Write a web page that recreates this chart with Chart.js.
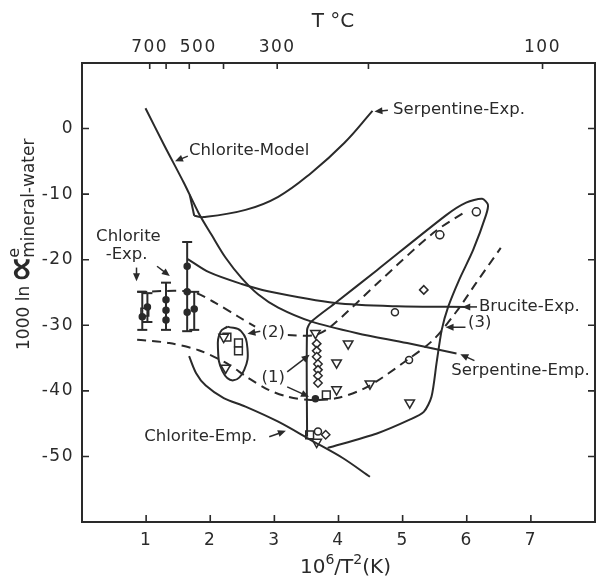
<!DOCTYPE html>
<html>
<head>
<meta charset="utf-8">
<title>Oxygen isotope fractionation, mineral-water</title>
<script src="https://cdn.jsdelivr.net/npm/chart.js@4.4.1/dist/chart.umd.min.js"></script>
<style>
  body { margin: 0; background: #fff; }
  canvas { display: block; }
</style>
</head>
<body>
<canvas id="fracChart" width="603" height="577"></canvas>
<script>
// all pairs are [10^6/T^2, 1000 ln alpha]

// solid curves
const chloriteModel = [[0.99, 3.1], [1.28, -2.5], [1.59, -8.3], [1.82, -12.9], [2.02, -16.2], [2.24, -19.7],
    [2.49, -22.8], [2.75, -25.3], [3.06, -27.3], [3.57, -29.4], [4.29, -31.2], [5.07, -32.7], [5.84, -34.3]];
const serpentineExpStart = [[1.68, -10.1], [1.75, -13.3]];
const serpentineExp = [[1.75, -13.3], [1.90, -13.5], [2.55, -12.4], [3.06, -10.4], [3.57, -6.8], [4.09, -2.2], [4.53, 2.7]];
const bruciteExp = [[1.65, -19.9], [1.98, -21.9], [2.49, -23.7], [2.90, -24.8], [3.95, -26.6], [4.91, -27.1], [6.02, -27.2]];
const chloriteEmp = [[1.67, -34.7], [1.78, -37.3], [1.93, -39.2], [2.21, -41.1], [2.55, -42.4], [3.06, -44.7],
    [3.57, -47.5], [4.06, -50.2], [4.49, -53.1]];
const envelope = [[3.83, -48.7], [4.60, -46.5], [5.11, -44.4], [5.33, -43.2], [5.45, -40.9], [5.53, -35.7],
    [5.61, -30.7], [5.71, -27.2], [5.88, -23.1], [6.10, -18.5], [6.30, -13.2], [6.33, -11.6], [6.24, -10.7],
    [5.99, -11.3], [5.68, -13.2], [4.60, -21.6], [3.95, -26.6], [3.57, -29.5], [3.51, -30.7], [3.51, -47.0]];
const loop2 = [[2.27, -30.2], [2.48, -30.9], [2.58, -33.5], [2.53, -36.8], [2.36, -38.4], [2.19, -37.0],
    [2.12, -33.5], [2.16, -31.0], [2.27, -30.2]];

// dashed curves
const upperDashedA = [[0.86, -24.9], [1.71, -24.9], [2.08, -26.6], [2.44, -28.7], [2.70, -30.2]];
const upperDashedB = [[3.21, -31.5], [3.63, -31.5], [3.88, -30.2], [4.65, -23.2], [5.48, -15.9], [5.99, -12.6]];
const lowerDashed = [[0.86, -32.2], [1.36, -32.7], [1.82, -33.8], [2.24, -35.7], [2.59, -38.0], [2.90, -39.8],
    [3.21, -40.9], [3.57, -41.4], [3.98, -41.1], [4.45, -39.4], [5.07, -35.3], [5.48, -32.2], [5.84, -27.9],
    [6.15, -23.5], [6.53, -18.2]];

// Chlorite-Exp. error bars and their points
const barX = [0.94, 1.02, 1.31, 1.64, 1.75];
const barLow = [-30.7, -29.5, -30.7, -30.9, -30.7];
const barHigh = [-24.9, -25.1, -23.5, -17.3, -24.9];
const barDots = [[0.94, -28.7], [1.02, -27.2], [1.31, -26.1], [1.31, -27.7], [1.31, -29.2],
    [1.64, -21.0], [1.64, -24.9], [1.64, -28.0], [1.75, -27.5]];

// sample symbols
const triangles = [[2.21, -31.8], [2.24, -36.5], [3.64, -31.2], [3.97, -39.8], [4.15, -32.8], [3.97, -35.7],
    [4.49, -38.9], [5.11, -41.8], [3.66, -47.8]];
const squares = [[2.26, -31.8], [2.44, -32.7], [2.44, -33.9], [3.81, -40.6], [3.55, -46.7], [0.98, -28.0]];
const diamonds = [[3.66, -32.8], [3.66, -33.9], [3.66, -34.8], [3.68, -35.9], [3.68, -36.8], [3.68, -37.7],
    [3.68, -38.8], [5.33, -24.6], [3.80, -46.7]];
const circles = [[4.88, -28.0], [5.10, -35.3], [3.68, -46.2]];
const dots = [[3.64, -41.2]];
const crossed = [[5.58, -16.2], [6.15, -12.7]];

// top axis (temperature, deg C)
const tempTicksC = [700, 600, 500, 400, 300, 200, 100];
const tempLabelsC = [700, 500, 300, 100];

// curve names and pointers
const notes = [
    ['Serpentine-Exp.', 4.85, 2.8], ['Chlorite-Model', 1.67, -3.4], ['Chlorite', 0.22, -16.5],
    ['-Exp.', 0.37, -19.3], ['(2)', 2.80, -31.2], ['(1)', 2.80, -38.0], ['Brucite-Exp.', 6.19, -27.2],
    ['(3)', 6.02, -29.6], ['Serpentine-Emp.', 5.76, -37.0], ['Chlorite-Emp.', 0.97, -47.0]
];
const arrows = [
    [4.77, 2.8, 4.56, 2.6], [1.65, -4.2, 1.45, -5.0], [0.85, -21.2, 0.85, -23.3], [1.17, -21.0, 1.37, -22.5],
    [2.78, -30.9, 2.58, -31.3], [3.20, -37.1, 3.55, -34.5], [3.20, -39.4, 3.54, -40.9],
    [6.16, -27.2, 5.93, -27.2], [5.98, -30.3, 5.67, -30.3], [6.12, -35.4, 5.90, -34.4], [2.92, -47.0, 3.18, -46.1]
];

const ink = '#2a2a2a';
const fontFamily = "'DejaVu Sans', sans-serif";
Chart.defaults.font.family = fontFamily;
Chart.defaults.color = ink;

const xy = pts => pts.map(p => ({ x: p[0], y: p[1] }));
const tempToX = c => 1e6 / Math.pow(c + 273.15, 2);

function curve(pts, dash, tension) {
    return {
        data: xy(pts), showLine: true, borderColor: ink, borderWidth: 2,
        borderDash: dash || [], tension: tension || 0, pointRadius: 0, pointHoverRadius: 0
    };
}

function marks(pts, style, r, fill, rot) {
    return {
        data: xy(pts), showLine: false, pointStyle: style, pointRadius: r, pointHoverRadius: r,
        pointRotation: rot || 0, pointBorderColor: ink, pointBackgroundColor: fill || '#fff', pointBorderWidth: 1.5
    };
}

const errorBars = barX.map((x, i) => ({
    data: [{ x: x, y: barLow[i] }, { x: x, y: barHigh[i] }],
    showLine: true, borderColor: ink, borderWidth: 2,
    pointStyle: 'line', pointRadius: 5, pointHoverRadius: 5, pointBorderColor: ink, pointBorderWidth: 2
}));

// frame, inward ticks, titles and notes
const decorations = {
    id: 'decorations',
    beforeDraw(chart) {
        chart.ctx.letterSpacing = '1.5px';
    },
    beforeDatasetsDraw(chart) {
        chart.ctx.letterSpacing = '0px';
    },
    afterDraw(chart) {
        const { ctx, chartArea: a, scales } = chart;
        const sx = scales.x, sy = scales.y, st = scales.xTop;
        ctx.save();
        ctx.letterSpacing = '0px';
        ctx.strokeStyle = ink;
        ctx.fillStyle = ink;
        ctx.lineWidth = 2;
        ctx.strokeRect(a.left, a.top, a.right - a.left, a.bottom - a.top);

        ctx.lineWidth = 1.6;
        ctx.beginPath();
        sx.ticks.forEach(t => {
            if (t.value <= sx.min || t.value >= sx.max) return;
            const px = sx.getPixelForValue(t.value);
            ctx.moveTo(px, a.bottom); ctx.lineTo(px, a.bottom - 7);
        });
        st.ticks.forEach(t => {
            const px = st.getPixelForValue(t.value);
            ctx.moveTo(px, a.top); ctx.lineTo(px, a.top + 6);
        });
        sy.ticks.forEach(t => {
            if (t.value <= sy.min || t.value >= sy.max) return;
            const py = sy.getPixelForValue(t.value);
            ctx.moveTo(a.left, py); ctx.lineTo(a.left + 7, py);
            ctx.moveTo(a.right, py); ctx.lineTo(a.right - 7, py);
        });
        ctx.stroke();

        // temperature labels (500 sits a little right of its tick, as in the figure)
        ctx.font = '17px ' + fontFamily;
        ctx.textAlign = 'center';
        ctx.textBaseline = 'middle';
        ctx.letterSpacing = '1.5px';
        tempLabelsC.forEach(c => {
            const shift = c === 500 ? 9 : 0;
            ctx.fillText(String(c), st.getPixelForValue(tempToX(c)) + shift, 48);
        });
        ctx.letterSpacing = '0px';

        // pointers
        ctx.lineWidth = 1.5;
        arrows.forEach(r => {
            const x1 = sx.getPixelForValue(r[0]), y1 = sy.getPixelForValue(r[1]);
            const x2 = sx.getPixelForValue(r[2]), y2 = sy.getPixelForValue(r[3]);
            const ang = Math.atan2(y2 - y1, x2 - x1);
            ctx.beginPath();
            ctx.moveTo(x1, y1); ctx.lineTo(x2 - 4 * Math.cos(ang), y2 - 4 * Math.sin(ang));
            ctx.stroke();
            ctx.beginPath();
            ctx.moveTo(x2, y2);
            ctx.lineTo(x2 - 8 * Math.cos(ang) + 3.5 * Math.sin(ang), y2 - 8 * Math.sin(ang) - 3.5 * Math.cos(ang));
            ctx.lineTo(x2 - 8 * Math.cos(ang) - 3.5 * Math.sin(ang), y2 - 8 * Math.sin(ang) + 3.5 * Math.cos(ang));
            ctx.closePath();
            ctx.fill();
        });

        // curve names
        ctx.font = '16.5px ' + fontFamily;
        ctx.textAlign = 'left';
        notes.forEach(n => ctx.fillText(n[0], sx.getPixelForValue(n[1]), sy.getPixelForValue(n[2])));

        // top title
        ctx.font = '20px ' + fontFamily;
        ctx.textAlign = 'center';
        ctx.fillText('T °C', 333, 22);

        // bottom title: 10^6/T^2(K)
        ctx.textAlign = 'left';
        ctx.textBaseline = 'alphabetic';
        let bx = 300;
        const by = 573;
        const part = (txt, size, dy) => {
            ctx.font = size + 'px ' + fontFamily;
            ctx.fillText(txt, bx, by + dy);
            bx += ctx.measureText(txt).width;
        };
        part('10', 20, 0); part('6', 14, -9); part('/T', 20, 0); part('2', 14, -9); part('(K)', 20, 0);

        // left title: 1000 ln alpha (e, mineral-water)
        ctx.translate(29, 350);
        ctx.rotate(-Math.PI / 2);
        ctx.font = '17px ' + fontFamily;
        ctx.fillText('1000 ln', 0, 0);
        let u = ctx.measureText('1000 ln').width + 3;
        ctx.font = 'bold 38px ' + fontFamily;
        ctx.fillText('\u221D', u, 4);
        u += ctx.measureText('\u221D').width - 2;
        ctx.font = '16px ' + fontFamily;
        ctx.fillText('e', u, -10);
        ctx.font = '17px ' + fontFamily;
        ctx.fillText('mineral-water', u, 5);
        ctx.restore();
    }
};

const axisOff = { display: false, drawTicks: false };

new Chart(document.getElementById('fracChart'), {
    type: 'scatter',
    data: {
        datasets: [
            curve(chloriteModel, null, 0.3),
            curve(serpentineExpStart),
            curve(serpentineExp, null, 0.4),
            curve(bruciteExp, null, 0.3),
            curve(chloriteEmp, null, 0.3),
            curve(envelope, null, 0.25),
            curve(loop2, null, 0.45),
            curve(upperDashedA, [9, 6], 0.3),
            curve(upperDashedB, [9, 6], 0.3),
            curve(lowerDashed, [9, 6], 0.3),
            ...errorBars,
            marks(barDots, 'circle', 3, ink),
            marks(triangles, 'triangle', 5.5, '#fff', 180),
            marks(squares, 'rect', 5.5),
            marks(diamonds, 'rectRot', 4.2),
            marks(circles, 'circle', 3.5),
            marks(dots, 'circle', 3, ink),
            marks(crossed, 'circle', 4),
            marks(crossed, 'cross', 4.5, 'rgba(0,0,0,0)')
        ]
    },
    options: {
        responsive: false,
        animation: false,
        layout: { padding: { left: 0, right: 3, top: 0, bottom: 0 } },
        plugins: { legend: { display: false }, tooltip: { enabled: false } },
        scales: {
            x: {
                type: 'linear', position: 'bottom', min: 0, max: 8,
                grid: axisOff, border: { display: false },
                ticks: {
                    stepSize: 1, padding: 8, color: ink, font: { size: 17 },
                    callback: v => (v > 0 && v < 8) ? String(v) : ''
                },
                afterFit: s => { s.height = 55; }
            },
            xTop: {
                type: 'linear', position: 'top', min: 0, max: 8,
                grid: axisOff, border: { display: false },
                afterBuildTicks: s => {
                    s.ticks = tempTicksC.map(c => ({ value: tempToX(c) }));
                },
                ticks: { display: false },
                afterFit: s => { s.height = 63; }
            },
            y: {
                type: 'linear', min: -60, max: 10,
                grid: axisOff, border: { display: false },
                ticks: {
                    stepSize: 10, padding: 8, color: ink, font: { size: 17 },
                    callback: v => (v > -60 && v < 10) ? String(v) : ''
                },
                afterFit: s => { s.width = 82; }
            }
        }
    },
    plugins: [decorations]
});
</script>
</body>
</html>
